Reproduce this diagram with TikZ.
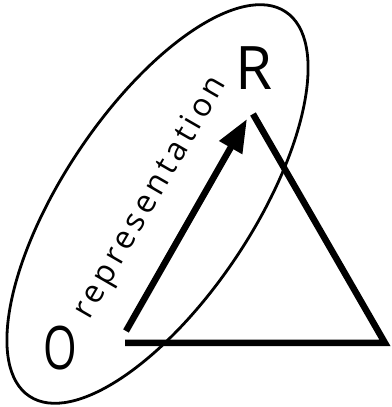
\documentclass[tikz,border=0pt]{standalone}
\usepackage{fontspec}
\setmainfont{Open Sans}
\usetikzlibrary{arrows.meta}
\begin{document}
\begin{tikzpicture}[x=1pt,y=1pt,
  ringline/.style={line width=2.8pt},
  heavyline/.style={line width=6.5pt, line join=miter, line cap=butt},
  biglabel/.style={inner sep=0pt, font=\fontsize{60}{60}\selectfont},
  replabel/.style={inner sep=0pt, rotate=60, anchor=base,
    font=\fontsize{32}{32}\selectfont\addfontfeature{LetterSpace=13}}]
\useasboundingbox (0,0) rectangle (391,407);
% ellipse
\draw[ringline, rotate around={56.3:(157.5,203)}] (157.5,203) ellipse [x radius=231pt, y radius=95pt];
% labels
\node[biglabel] (R) at (254,338.5) {R};
\node[biglabel, xscale=0.72] (O) at (60,58.5) {O};
\node[replabel] (rep) at (158,205) {representation};
% triangle
\coordinate (tTop) at (253,293);
\coordinate (tRight) at (385,64);
\coordinate (tLeft) at (125,64);
\draw[heavyline] (tTop) -- (tRight) -- (tLeft);
% arrow
\coordinate (aS) at (126,76);
\coordinate (aE) at (247,288);
\draw[heavyline, -{Triangle[length=33pt,width=25pt]}] (aS) -- (aE);
\end{tikzpicture}
\end{document}
